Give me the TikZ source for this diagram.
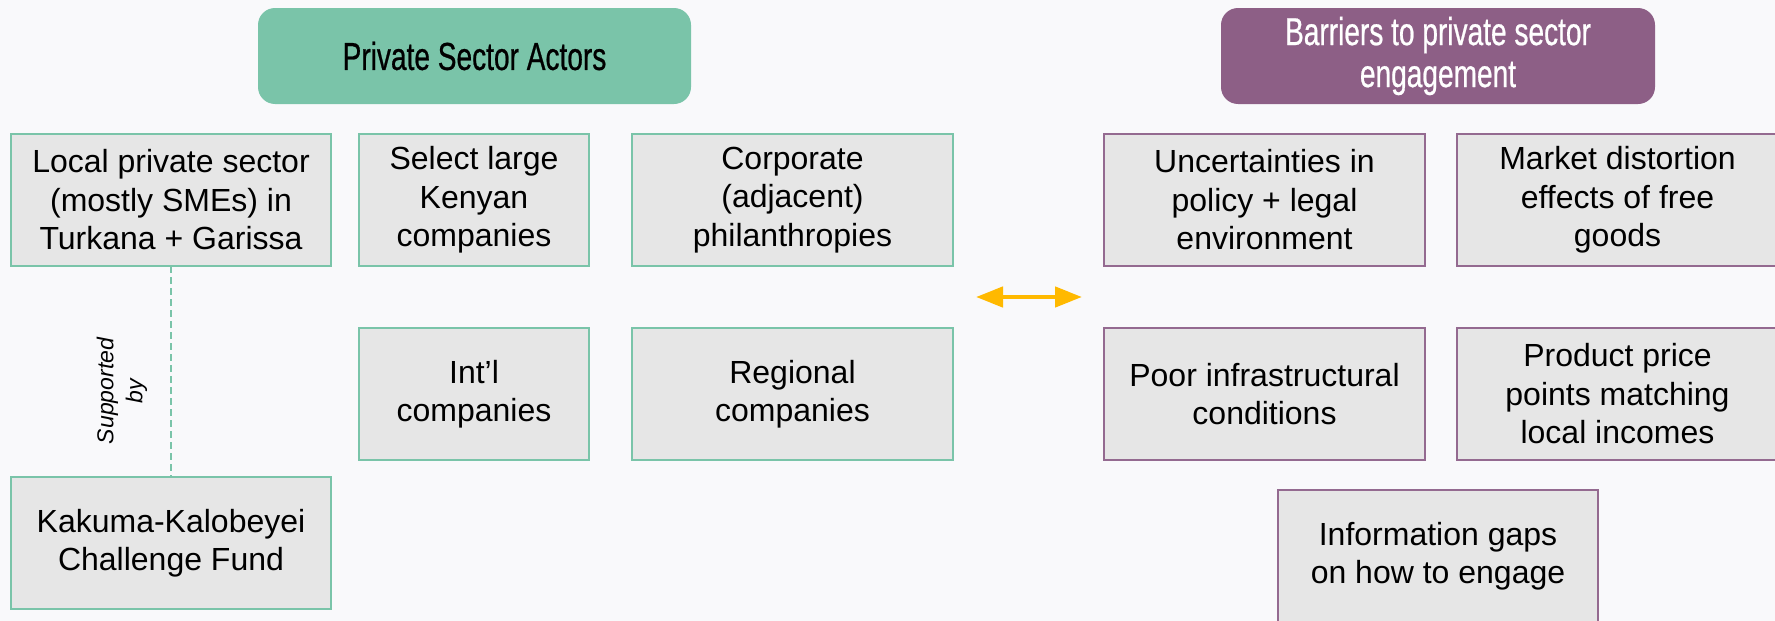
\documentclass[tikz,border=0pt]{standalone}
\usepackage{fontspec}
\setmainfont{Liberation Sans}
\newfontfamily\headfont[FakeStretch=0.72,FakeBold=0.6]{Liberation Sans}
\usetikzlibrary{arrows.meta}

\definecolor{pagebg}{RGB}{249,249,251}
\definecolor{boxfill}{RGB}{230,230,230}
\definecolor{actgreen}{RGB}{122,196,169}
\definecolor{barpurple}{RGB}{141,95,134}
\definecolor{barline}{RGB}{148,106,144}
\definecolor{linkgold}{RGB}{255,185,0}

\tikzset{
  every node/.style={inner sep=0pt, outer sep=0pt},
  boxtext/.style={align=center, font=\fontsize{32}{38.5}\selectfont, text=black},
  actor/.style={boxtext, draw=actgreen, line width=2pt, fill=boxfill,
    minimum height=132pt},
  barrier/.style={boxtext, draw=barline, line width=2pt, fill=boxfill,
    minimum width=321pt, minimum height=132pt},
  header/.style={rounded corners=17pt, minimum width=433pt, minimum height=96pt,
    align=center, font=\headfont\fontsize{39}{42}\selectfont},
  support/.style={draw=actgreen, line width=1.5pt, dash pattern=on 7pt off 4pt},
  linkarrow/.style={draw=linkgold, line width=4.5pt,
    {Triangle[length=27pt,width=20pt]}-{Triangle[length=27pt,width=20pt]}},
}

\begin{document}
\begin{tikzpicture}[x=1pt, y=-1pt]
  % page
  \fill[pagebg] (0,0) rectangle (1775,621);
  \useasboundingbox (0,0) rectangle (1775,621);

  % private sector actors
  \node[header, fill=actgreen, text=black] (acthead) at (474.5,56) {Private Sector Actors};
  \node[actor, minimum width=320pt] (local) at (171,200)
    {Local private sector\\(mostly SMEs) in\\Turkana + Garissa};
  \node[actor, minimum width=230pt] (kenyan) at (474,200)
    {Select large\\Kenyan\\companies};
  \node[actor, minimum width=321pt] (corp) at (792.5,200)
    {Corporate\\(adjacent)\\philanthropies};
  \node[actor, minimum width=230pt] (intl) at (474,394)
    {Int’l\\companies};
  \node[actor, minimum width=321pt] (regional) at (792.5,394)
    {Regional\\companies};
  \node[actor, minimum width=320pt] (kakuma) at (171,543)
    {Kakuma-Kalobeyei\\Challenge Fund};

  % support link
  \draw[support] (local.south) -- (kakuma.north);
  \node[rotate=90, align=center, font=\itshape\fontsize{23}{29}\selectfont] (suplabel)
    at (122,391) {Supported\\by};

  % barriers
  \node[header, fill=barpurple, text=white, minimum width=434pt] (barhead) at (1438,56)
    {Barriers to private sector\\engagement};
  \node[barrier] (policy) at (1264.5,200)
    {Uncertainties in\\policy + legal\\environment};
  \node[barrier] (market) at (1617.5,200)
    {Market distortion\\effects of free\\goods};
  \node[barrier] (infra) at (1264.5,394)
    {Poor infrastructural\\conditions};
  \node[barrier] (price) at (1617.5,394)
    {Product price\\points matching\\local incomes};
  \node[barrier, minimum width=320pt] (info) at (1438,556)
    {Information gaps\\on how to engage};

  % link between the two groups
  \coordinate (linkL) at (976,297);
  \coordinate (linkR) at (1082,297);
  \draw[linkarrow] (linkL) -- (linkR);
\end{tikzpicture}
\end{document}
